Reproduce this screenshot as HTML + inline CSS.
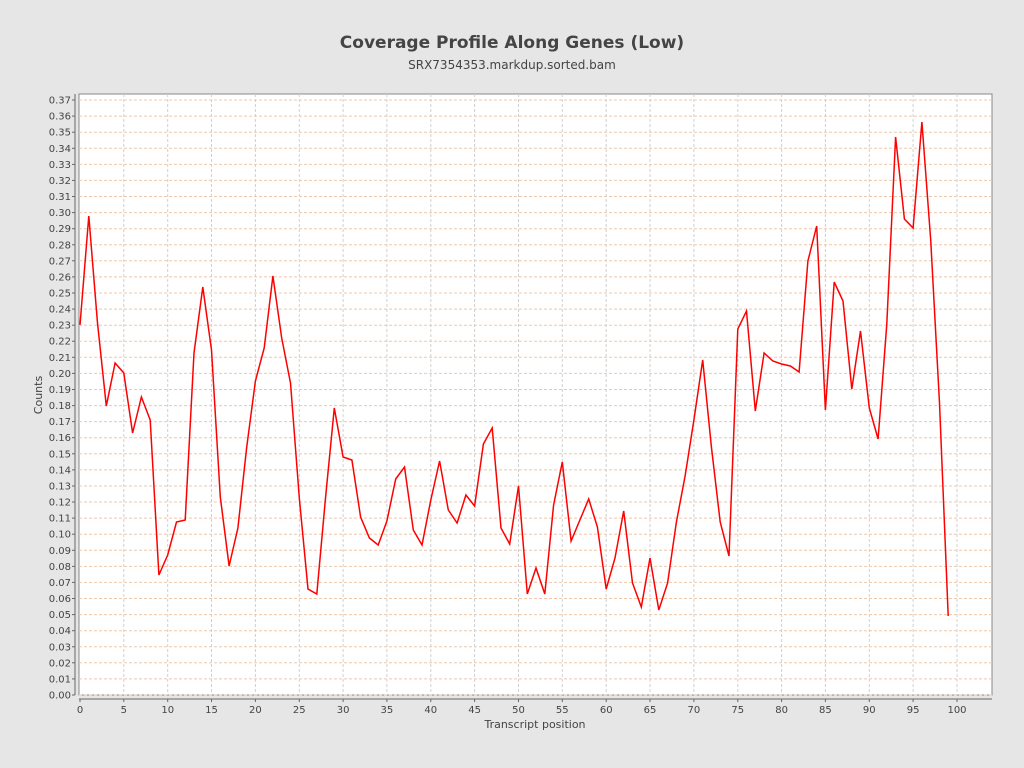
<!DOCTYPE html>
<html><head><meta charset="utf-8"><style>
body{margin:0;background:#e6e6e6;width:1024px;height:768px;overflow:hidden;font-family:"Liberation Sans","DejaVu Sans",sans-serif}
</style></head><body>
<svg id="s" width="1024" height="768" xmlns="http://www.w3.org/2000/svg" style="position:absolute;left:0;top:0">
<text x="512" y="48" text-anchor="middle" font-size="17" font-weight="bold" fill="#444" font-family="DejaVu Sans, sans-serif">Coverage Profile Along Genes (Low)</text>
<text x="512" y="69" text-anchor="middle" font-size="12" fill="#444" font-family="DejaVu Sans, sans-serif">SRX7354353.markdup.sorted.bam</text>
<rect x="79" y="94" width="913" height="601" fill="#fff" stroke="#888" stroke-width="1"/>
<g id="g"></g>
<text transform="translate(42,395) rotate(-90)" text-anchor="middle" font-size="11" fill="#444" font-family="DejaVu Sans, sans-serif">Counts</text>
<text x="535" y="728" text-anchor="middle" font-size="11" fill="#444" font-family="DejaVu Sans, sans-serif">Transcript position</text>
</svg>
<script>
var ys=[325,216,323,406,363,373,433,397,420,575,555,522,520,353,287,350,497,566,528,448,381,348,276,338,383,498,589,594,497,408,457,460,517,538,545,521,479,467,530,545,500,461,510,523,495,506,444,428,528,544,486,594,568,594,505,462,541,520,499,527,589,558,511,583,607,558,610,583,522,476,420,360,447,522,556,329,311,411,353,361,364,366,372,261,226,410,282,301,389,331,408,439,324,137,219,228,122,240,403,616];
var h='',X=function(i){return 80+i*8.77},Y=function(v){return 695-v*1608};
for(var k=0;k<=37;k++){var y=Y(k/100).toFixed(1);
h+='<line x1="79" x2="992" y1="'+y+'" y2="'+y+'" stroke="#f0c8a8" stroke-dasharray="3,2" stroke-width="1"/>';
h+='<line x1="72" x2="75" y1="'+y+'" y2="'+y+'" stroke="#666"/>';
h+='<text x="71" y="'+(+y+3.5)+'" text-anchor="end" font-size="10" fill="#444" font-family="DejaVu Sans, sans-serif">'+(k/100).toFixed(2)+'</text>';}
for(var i=0;i<=100;i+=5){var x=X(i).toFixed(1);
if(i>0&&i<=100)h+='<line y1="94" y2="695" x1="'+x+'" x2="'+x+'" stroke="#d0d0d0" stroke-dasharray="3,2"/>';
h+='<line y1="699" y2="702" x1="'+x+'" x2="'+x+'" stroke="#666"/>';
h+='<text y="713" x="'+x+'" text-anchor="middle" font-size="10" fill="#444" font-family="DejaVu Sans, sans-serif">'+i+'</text>';}
h+='<line x1="75" x2="75" y1="94" y2="695" stroke="#666"/><line x1="79" x2="992" y1="699" y2="699" stroke="#666"/>';
var p=ys.map(function(y,i){return X(i).toFixed(1)+','+y}).join(' ');
h+='<polyline points="'+p+'" fill="none" stroke="#f00" stroke-width="1.5"/>';
document.getElementById('g').innerHTML=h;
</script>
</body></html>
